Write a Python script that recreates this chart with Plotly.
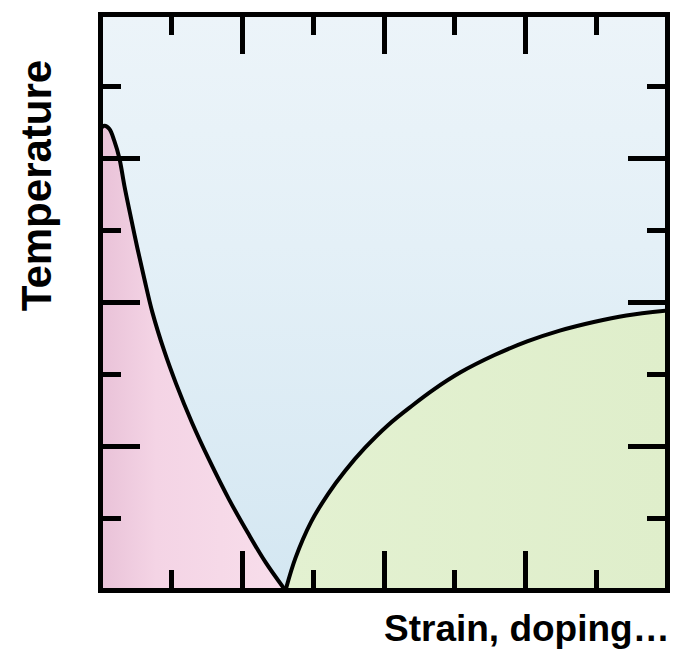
import plotly.graph_objects as go

# ---- data (axis units: 0..8 on both axes) ----
X_MAX = 8
Y_MAX = 8

# boundary between pink phase and blue phase (left dome / falling line)
left_x = [0.0, 0.056, 0.126, 0.196, 0.267, 0.337, 0.435, 0.519, 0.618, 0.730,
          0.898, 1.067, 1.291, 1.530, 1.811, 2.091, 2.330, 2.610]
left_y = [6.41, 6.455, 6.41, 6.24, 6.00, 5.62, 5.15, 4.76, 4.33, 3.87,
          3.33, 2.87, 2.33, 1.82, 1.27, 0.78, 0.39, 0.0]

# boundary between green phase and blue phase (rising dome)
right_x = [2.610, 2.750, 2.970, 3.210, 3.450, 3.730, 4.060, 4.400, 4.700,
           5.080, 5.560, 6.020, 6.480, 6.960, 7.420, 8.0]
right_y = [0.0, 0.45, 0.95, 1.34, 1.66, 1.98, 2.30, 2.57, 2.79,
           3.03, 3.27, 3.46, 3.61, 3.73, 3.82, 3.89]

x_title = "Strain, doping…"
y_title = "Temperature"

fig = go.Figure()

# blue background phase
fig.add_trace(go.Scatter(
    x=[0, X_MAX, X_MAX, 0, 0], y=[0, 0, Y_MAX, Y_MAX, 0],
    mode="none", fill="toself",
    fillgradient=dict(type="vertical",
                      colorscale=[[0, "#d4e7f2"], [0.6, "#e4f0f7"], [1, "#ecf4f9"]]),
    hoverinfo="skip", showlegend=False))

# pink phase
fig.add_trace(go.Scatter(
    x=[0] + left_x + [0], y=[0] + left_y + [0],
    mode="none", fill="toself",
    fillgradient=dict(type="horizontal",
                      colorscale=[[0, "#e9c2d8"], [0.3, "#f4d4e5"], [1, "#f8deeb"]]),
    hoverinfo="skip", showlegend=False))

# green phase
fig.add_trace(go.Scatter(
    x=right_x + [X_MAX, right_x[0]], y=right_y + [0, 0],
    mode="none", fill="toself",
    fillgradient=dict(type="horizontal",
                      colorscale=[[0, "#e3f1d1"], [1, "#dfeecb"]]),
    hoverinfo="skip", showlegend=False))

# boundary lines
fig.add_trace(go.Scatter(x=left_x, y=left_y, mode="lines",
                         line=dict(color="black", width=4, shape="spline", smoothing=1.0),
                         hoverinfo="skip", showlegend=False))
fig.add_trace(go.Scatter(x=right_x, y=right_y, mode="lines",
                         line=dict(color="black", width=4, shape="spline", smoothing=1.0),
                         hoverinfo="skip", showlegend=False))

axis_common = dict(
    showgrid=False, zeroline=False, showticklabels=False,
    showline=True, linecolor="black", linewidth=5, mirror="allticks",
    ticks="inside", ticklen=37, tickwidth=5, tickcolor="black",
    tick0=0, dtick=2,
    minor=dict(ticks="inside", ticklen=18, tickwidth=5, tickcolor="black",
               tick0=0, dtick=1, showgrid=False),
    range=[0.035, 7.965], fixedrange=True,
)

fig.update_layout(
    width=682, height=658,
    margin=dict(l=103, r=13, t=12, b=70),
    paper_bgcolor="white", plot_bgcolor="#e6f1f8",
    xaxis=axis_common, yaxis=axis_common,
    font=dict(family="Liberation Sans, Arial, sans-serif", color="black"),
    annotations=[
        dict(text=f"<b>{y_title}</b>", xref="paper", yref="paper",
             x=-0.118, y=0.705, xanchor="center", yanchor="middle",
             textangle=-90, showarrow=False, font=dict(size=42)),
        dict(text=f"<b>{x_title}</b>", xref="paper", yref="paper",
             x=1.012, y=-0.071, xanchor="right", yanchor="middle",
             showarrow=False, font=dict(size=37)),
    ],
)

fig.write_html("out.html", config={"displayModeBar": False},
               post_script="document.body.style.margin='0px';document.body.style.overflow='hidden';")
